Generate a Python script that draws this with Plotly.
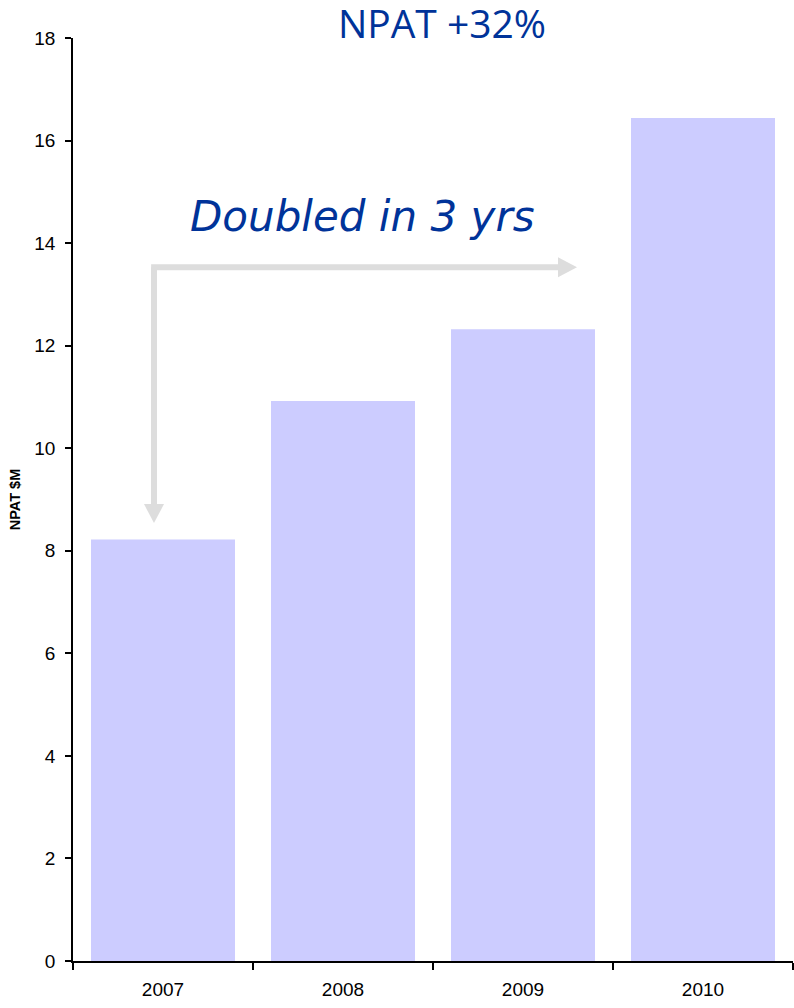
import plotly.graph_objects as go

# NPAT by financial year, $M
years = ["2007", "2008", "2009", "2010"]
npat = [8.22, 10.92, 12.32, 16.44]

y_ticks = [0, 2, 4, 6, 8, 10, 12, 14, 16, 18]

BAR_COLOR = "#CCCCFF"
ARROW_COLOR = "#DDDDDD"
TEXT_BLUE = "#003399"

fig = go.Figure(
    go.Bar(
        x=years,
        y=npat,
        marker=dict(color=BAR_COLOR, line=dict(width=0)),
        width=0.8,
    )
)

# elbow connector: down to 2007, across towards 2009
x_left, y_top, y_tip, x_tip = -0.05, 13.53, 8.54, 2.30
fig.add_shape(type="line", x0=x_left, x1=x_left, y0=y_top, y1=y_tip + 0.3,
              line=dict(color=ARROW_COLOR, width=6), layer="above")
fig.add_shape(type="line", x0=x_left - 0.016, x1=x_tip - 0.06, y0=y_top, y1=y_top,
              line=dict(color=ARROW_COLOR, width=6), layer="above")
# arrow heads drawn in pixel units around their tip points
fig.add_shape(type="path", xref="x", yref="y",
              xsizemode="pixel", ysizemode="pixel", xanchor=x_left, yanchor=y_tip,
              path="M -10 19 L 10 19 L 0 0 Z",
              fillcolor=ARROW_COLOR, line=dict(width=0), layer="above")
fig.add_shape(type="path", xref="x", yref="y",
              xsizemode="pixel", ysizemode="pixel", xanchor=x_tip, yanchor=y_top,
              path="M -19 -10 L -19 10 L 0 0 Z",
              fillcolor=ARROW_COLOR, line=dict(width=0), layer="above")

fig.add_annotation(
    x=1.11, y=14.52, xref="x", yref="y", text="Doubled in 3 yrs",
    showarrow=False,
    font=dict(family="DejaVu Sans", size=42, style="italic", color=TEXT_BLUE),
)

fig.update_layout(
    width=794, height=1008,
    margin=dict(l=73, r=1, t=38, b=47),
    paper_bgcolor="white", plot_bgcolor="white",
    showlegend=False,
    title=dict(text="NPAT +32%", x=442 / 794, xanchor="center", y=0.976, yanchor="middle",
               font=dict(family="Open Sans", size=39, color=TEXT_BLUE)),
    font=dict(family="Liberation Sans", color="black"),
    bargap=0.2,
)

fig.update_xaxes(
    type="category", range=[-0.5, 3.5], tickson="boundaries",
    showline=True, linecolor="black", linewidth=1.5,
    ticks="outside", ticklen=7, tickcolor="black", tickwidth=1.5,
    tickfont=dict(size=19), ticklabelstandoff=10, showgrid=False, zeroline=False,
)
fig.update_yaxes(
    range=[0, 18], tickvals=y_ticks,
    showline=True, linecolor="black", linewidth=1.5,
    ticks="outside", ticklen=6, tickcolor="black", tickwidth=1.5,
    tickfont=dict(size=19), ticklabelstandoff=6, showgrid=False, zeroline=False,
    title=dict(text="<b>NPAT $M</b>", font=dict(size=14.5), standoff=10),
)

fig.write_html("out.html")
